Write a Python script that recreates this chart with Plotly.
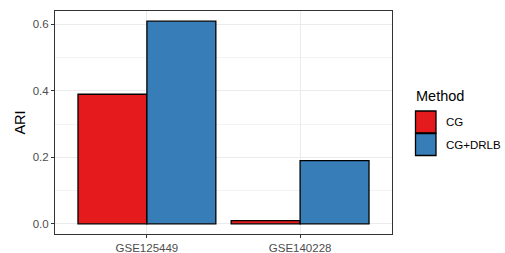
import plotly.graph_objects as go

categories = ["GSE125449", "GSE140228"]
methods = ["CG", "CG+DRLB"]
cg_values = [0.39, 0.01]
cg_drlb_values = [0.61, 0.19]
colors = ["#E41A1C", "#377EB8"]
y_ticks = [0.0, 0.2, 0.4, 0.6]

series = [cg_values, cg_drlb_values]

W, H = 505, 253
L, T = 55, 11
R = W - 392
B = H - 234

fig = go.Figure()
for name, vals, col in zip(methods, series, colors):
    fig.add_trace(go.Bar(
        x=categories, y=vals, name=name,
        marker=dict(color=col, line=dict(color="black", width=1.3)),
        showlegend=False,
    ))

ymax = max(max(s) for s in series)
pad = ymax * 0.05

font_family = "Liberation Sans, Arial, sans-serif"

fig.update_layout(
    width=W, height=H,
    margin=dict(l=L, r=R, t=T, b=B, autoexpand=False),
    paper_bgcolor="white", plot_bgcolor="white",
    barmode="group", bargap=0.1, bargroupgap=0,
    font=dict(family=font_family, color="#4D4D4D", size=11),
)
fig.update_xaxes(
    range=[-0.6, 1.6],
    showgrid=True, gridcolor="#EBEBEB", gridwidth=1.1,
    showline=True, mirror=True, linecolor="#333333", linewidth=1,
    ticks="outside", ticklen=3, tickcolor="#333333", tickwidth=1,
    tickfont=dict(size=11.5, color="#4D4D4D"),
    zeroline=False,
)
fig.update_yaxes(
    range=[-pad, ymax + pad],
    tickvals=y_ticks, ticktext=[f"{v:.1f}" for v in y_ticks],
    showgrid=True, gridcolor="#EBEBEB", gridwidth=1.1,
    minor=dict(tickvals=[0.1, 0.3, 0.5], showgrid=True, gridcolor="#F3F3F3", gridwidth=0.6, ticks=""),
    showline=True, mirror=True, linecolor="#333333", linewidth=1,
    ticks="outside", ticklen=3, tickcolor="#333333", tickwidth=1,
    tickfont=dict(size=11.5, color="#4D4D4D"),
    zeroline=False,
    title=dict(text="ARI", font=dict(size=14.5, color="black"), standoff=3),
)

# Manual legend (ggplot-style large keys); positions given in window pixels
panel_w = W - L - R
panel_h = H - T - B
def px2paper_x(px):
    return (px - L) / panel_w
def px2paper_y(py):
    return (H - B - py) / panel_h

fig.add_annotation(
    x=px2paper_x(414), y=px2paper_y(96), xref="paper", yref="paper",
    text="Method", showarrow=False, xanchor="left", yanchor="middle",
    font=dict(size=14.5, color="black", family=font_family),
)
key_tops = [111, 133.5]
key_h = 22
for i, (name, col) in enumerate(zip(methods, colors)):
    top = key_tops[i]
    fig.add_shape(
        type="rect", xref="paper", yref="paper",
        x0=px2paper_x(415.5), x1=px2paper_x(436),
        y0=px2paper_y(top + key_h), y1=px2paper_y(top),
        fillcolor=col, line=dict(color="black", width=1.3),
    )
    fig.add_annotation(
        x=px2paper_x(444), y=px2paper_y(top + key_h / 2), xref="paper", yref="paper",
        text=name, showarrow=False, xanchor="left", yanchor="middle",
        font=dict(size=11.5, color="black", family=font_family),
    )

fig.write_html(
    "out.html",
    config={"displayModeBar": False},
    post_script="document.body.style.margin='0';document.body.style.overflow='hidden';",
)
